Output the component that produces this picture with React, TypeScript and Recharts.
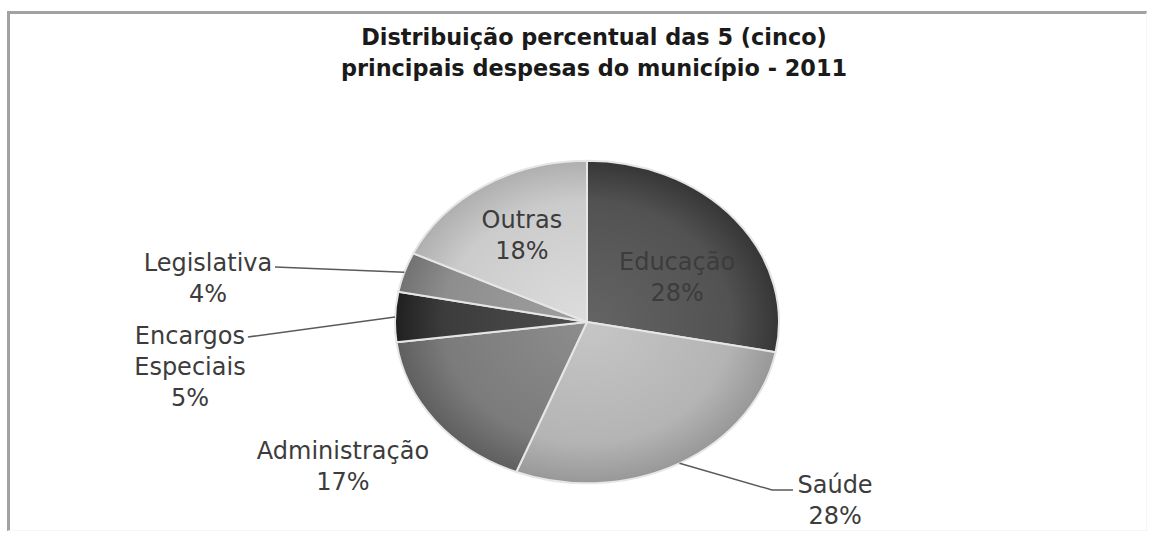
import React from "react";
import { PieChart, Pie, Cell } from "recharts";

const categories = ["Educação", "Saúde", "Administração", "Encargos Especiais", "Legislativa", "Outras"];
const values = [28, 28, 17, 5, 4, 18];
const titleLines = ["Distribuição percentual das 5 (cinco)", "principais despesas do município - 2011"];

const colors = ["#525252", "#b4b4b4", "#7b7b7b", "#3c3c3c", "#8e8e8e", "#cbcbcb"];

// label layout in units of outer radius relative to pie center
const labelLayout = [
  { tx: 0.469, ty: -0.234, line: null as null | number[][] },
  { tx: 1.292, ty: 0.932, line: [[0.964, 0.875], [1.073, 0.875]] },
  { tx: -1.271, ty: 0.755, line: null },
  { tx: -2.068, ty: 0.234, line: [[-1.766, 0.078]] },
  { tx: -1.974, ty: -0.229, line: [[-1.625, -0.286]] },
  { tx: -0.339, ty: -0.453, line: null },
];
const labelSplit = [["Educação"], ["Saúde"], ["Administração"], ["Encargos", "Especiais"], ["Legislativa"], ["Outras"]];

const data = categories.map((name, i) => ({ name, value: values[i] }));

const RAD = Math.PI / 180;
const YK = 0.84;

const shade = (hex: string, amt: number) => {
  const n = parseInt(hex.slice(1), 16);
  const f = (c: number) => Math.max(0, Math.min(255, Math.round(c + amt)));
  const r = f((n >> 16) & 255), g = f((n >> 8) & 255), b = f(n & 255);
  return `rgb(${r},${g},${b})`;
};

const EllipseSector = (props: any) => {
  const { cx, cy, outerRadius, startAngle, endAngle, fill, index } = props;
  const rx = outerRadius, ry = outerRadius * YK;
  const p = (a: number) => [cx + rx * Math.cos(a * RAD), cy - ry * Math.sin(a * RAD)];
  const [x1, y1] = p(startAngle);
  const [x2, y2] = p(endAngle);
  const large = Math.abs(endAngle - startAngle) > 180 ? 1 : 0;
  const sweep = endAngle < startAngle ? 1 : 0;
  const d = `M${cx},${cy} L${x1},${y1} A${rx},${ry} 0 ${large} ${sweep} ${x2},${y2} Z`;
  const id = `g${index ?? Math.round(startAngle)}`;
  return (
    <g>
      <defs>
        <radialGradient id={id} gradientUnits="userSpaceOnUse" cx={cx} cy={cy} r={rx} gradientTransform={`translate(0 ${cy * (1 - YK)}) scale(1 ${YK})`}>
          <stop offset="0%" stopColor={shade(fill, 18)} />
          <stop offset="75%" stopColor={fill} />
          <stop offset="100%" stopColor={shade(fill, -28)} />
        </radialGradient>
      </defs>
      <path d={d} fill={`url(#${id})`} stroke="#e6e6e6" strokeWidth={2} strokeLinejoin="round" />
    </g>
  );
};

const renderLabel = (props: any) => {
  const { cx, cy, outerRadius, midAngle, index } = props;
  const R = outerRadius;
  const L = labelLayout[index];
  const lines = [...labelSplit[index], `${values[index]}%`];
  const lh = 31;
  const x = cx + L.tx * R;
  const yc = cy + L.ty * R;
  let path: string | null = null;
  if (L.line) {
    const ex = cx + R * Math.cos(midAngle * RAD);
    const ey = cy - R * YK * Math.sin(midAngle * RAD);
    path = `M${ex},${ey} ` + L.line.map((q) => `L${cx + q[0] * R},${cy + q[1] * R}`).join(" ");
  }
  return (
    <g key={`lbl${index}`}>
      {path && <path d={path} fill="none" stroke="#5a5a5a" strokeWidth={1.5} />}
      <text x={x} y={yc} textAnchor="middle" fontFamily="'DejaVu Sans', sans-serif" fontSize={24} fill="#3c3c3c">
        {lines.map((t, i) => (
          <tspan key={i} x={x} y={yc - ((lines.length - 1) / 2) * lh + i * lh} dominantBaseline="central">
            {t}
          </tspan>
        ))}
      </text>
    </g>
  );
};

export default function App() {
  return (
    <div style={{ position: "absolute", left: 0, top: 0, width: 1153, height: 538, background: "#fff" }}>
      <div
        style={{
          position: "absolute",
          left: 7,
          top: 11,
          width: 1140,
          height: 520,
          boxSizing: "border-box",
          borderTop: "3px solid #a2a2a2",
          borderLeft: "3px solid #a2a2a2",
          borderRight: "1px solid #f5f5f5",
          borderBottom: "1px solid #f5f5f5",
        }}
      />
      <div
        style={{
          position: "absolute",
          left: 0,
          top: 22,
          width: 1188,
          textAlign: "center",
          fontFamily: "'DejaVu Sans', sans-serif",
          fontWeight: 700,
          fontSize: 22.4,
          lineHeight: "31px",
          color: "#1a1a1a",
        }}
      >
        {titleLines.map((t, i) => (
          <div key={i}>{t}</div>
        ))}
      </div>
      <div style={{ position: "absolute", left: 0, top: 0 }}>
        <PieChart width={1153} height={538}>
          <Pie
            data={data}
            dataKey="value"
            nameKey="name"
            cx={582}
            cy={317}
            outerRadius={192}
            startAngle={90}
            endAngle={-270}
            isAnimationActive={false}
            labelLine={false}
            label={renderLabel}
            shape={EllipseSector}
            inactiveShape={EllipseSector}
            activeShape={EllipseSector}
            stroke="none"
          >
            {data.map((d, i) => (
              <Cell key={d.name} fill={colors[i]} />
            ))}
          </Pie>
        </PieChart>
      </div>
    </div>
  );
}
